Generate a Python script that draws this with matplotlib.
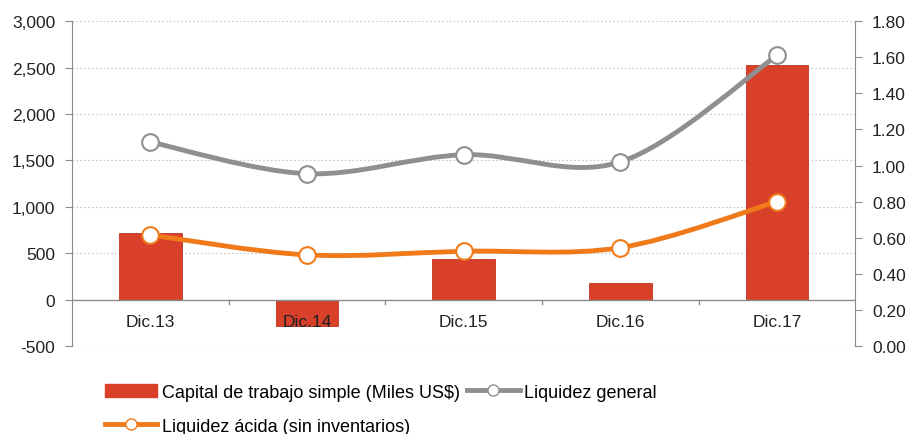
import matplotlib
matplotlib.use("Agg")
import matplotlib.pyplot as plt
import numpy as np
from matplotlib.path import Path
from matplotlib.patches import PathPatch
from matplotlib.lines import Line2D
from matplotlib.ticker import FuncFormatter

plt.rcParams['font.family'] = ['Liberation Sans', 'DejaVu Sans']

categories = ["Dic.13", "Dic.14", "Dic.15", "Dic.16", "Dic.17"]
capital = [720, -280, 435, 175, 2525]
liq_general = [1.13, 0.955, 1.06, 1.02, 1.61]
liq_acida = [0.615, 0.505, 0.525, 0.545, 0.80]

left_ticks = [-500, 0, 500, 1000, 1500, 2000, 2500, 3000]
right_ticks = [0.0, 0.2, 0.4, 0.6, 0.8, 1.0, 1.2, 1.4, 1.6, 1.8]

FS = 12.5

fig = plt.figure(figsize=(9.06, 4.35), dpi=100)
ax = fig.add_axes([0.0795, 0.2023, 0.8645, 0.7467])
ax2 = ax.twinx()

x = np.arange(len(categories))
ax.bar(x, capital, width=0.4, color="#d8402a", edgecolor="#c0321e", linewidth=0.6, zorder=2)

ax.set_xlim(-0.5, len(categories) - 0.5)
ax.set_ylim(-500, 3000)
ax.set_yticks(left_ticks)
ax.yaxis.set_major_formatter(FuncFormatter(lambda v, p: f"{int(v):,}"))
ax2.set_ylim(0, 1.8)
ax2.set_yticks(right_ticks)
ax2.yaxis.set_major_formatter(FuncFormatter(lambda v, p: f"{v:.2f}"))

for t in left_ticks:
    if t != 0:
        ax.axhline(t, color="#c8c8c8", lw=0.8, ls=(0, (1.5, 2)), zorder=0)
ax.axhline(0, color="#8a8a8a", lw=1.0, zorder=3)

# x ticks: labels below zero line, tick marks at boundaries
ax.set_xticks([])
for i, c in enumerate(categories):
    ax.text(i, -240, c, ha="center", va="center", fontsize=FS, color="#222222", zorder=5)
for b in np.arange(0.5, len(categories) - 0.5, 1.0):
    ax.plot([b, b], [0, -45], color="#8a8a8a", lw=1.0, zorder=3)

for s in ["top", "bottom"]:
    ax.spines[s].set_visible(False)
    ax2.spines[s].set_visible(False)
ax.spines["left"].set_color("#8a8a8a")
ax2.spines["right"].set_color("#8a8a8a")
ax2.spines["left"].set_visible(False)
ax.spines["right"].set_visible(False)
ax.tick_params(axis="y", labelsize=FS, colors="#8a8a8a", labelcolor="#222222", length=5, pad=7)
ax2.tick_params(axis="y", labelsize=FS, colors="#8a8a8a", labelcolor="#222222", length=5, pad=7)


def smooth_path(xs, ys, t=1/6):
    xs = list(xs); ys = list(ys)
    n = len(xs)
    verts = [(xs[0], ys[0])]
    codes = [Path.MOVETO]
    for i in range(n - 1):
        x0, y0 = (xs[i - 1], ys[i - 1]) if i > 0 else (xs[i], ys[i])
        x1, y1 = xs[i], ys[i]
        x2, y2 = xs[i + 1], ys[i + 1]
        x3, y3 = (xs[i + 2], ys[i + 2]) if i + 2 < n else (x2, y2)
        c1 = (x1 + (x2 - x0) * t, y1 + (y2 - y0) * t)
        c2 = (x2 - (x3 - x1) * t, y2 - (y3 - y1) * t)
        verts += [c1, c2, (x2, y2)]
        codes += [Path.CURVE4] * 3
    return Path(verts, codes)


for ys, col in [(liq_general, "#8f8f8f"), (liq_acida, "#f07a1a")]:
    p = PathPatch(smooth_path(x, ys), facecolor="none", edgecolor=col, lw=3.5, zorder=4,
                  capstyle="round", joinstyle="round")
    ax2.add_patch(p)
    ax2.plot(x, ys, ls="none", marker="o", ms=12, mfc="white", mec=col, mew=1.5, zorder=6)

h_bar = plt.Rectangle((0, 0), 1, 1, color="#d8402a")
h_gen = Line2D([], [], color="#8f8f8f", lw=3.5, marker="o", ms=8, mfc="white", mec="#8f8f8f")
h_acid = Line2D([], [], color="#f07a1a", lw=3.5, marker="o", ms=8, mfc="white", mec="#f07a1a")
fig.legend([h_bar, h_acid, h_gen],
           ["Capital de trabajo simple (Miles US$)", "Liquidez ácida (sin inventarios)", "Liquidez general"],
           ncol=2, loc="upper left", bbox_to_anchor=(0.116, 0.116), frameon=False,
           fontsize=13, handlelength=2.9, handletextpad=0.25, columnspacing=0.4,
           labelspacing=0.95, borderpad=0, borderaxespad=0)

fig.savefig("out.png", dpi=100, facecolor="white")
